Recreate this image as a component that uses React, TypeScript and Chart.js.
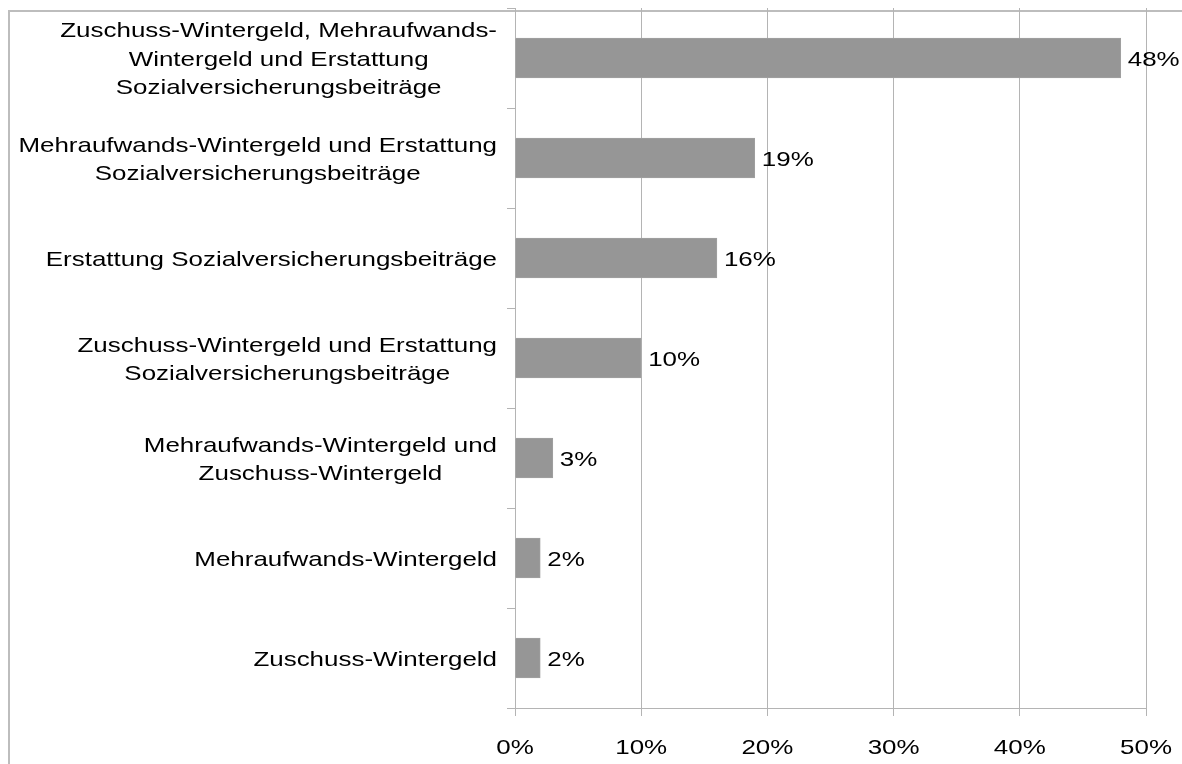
import React, { useEffect, useRef } from "react";
import { Chart, registerables } from "chart.js";

Chart.register(...registerables);

const categories: string[][] = [
  ["Zuschuss-Wintergeld, Mehraufwands-", "Wintergeld und Erstattung", "Sozialversicherungsbeiträge"],
  ["Mehraufwands-Wintergeld und Erstattung", "Sozialversicherungsbeiträge"],
  ["Erstattung Sozialversicherungsbeiträge"],
  ["Zuschuss-Wintergeld und Erstattung", "Sozialversicherungsbeiträge"],
  ["Mehraufwands-Wintergeld und", "Zuschuss-Wintergeld"],
  ["Mehraufwands-Wintergeld"],
  ["Zuschuss-Wintergeld"],
];
const shares: number[] = [48, 19, 16, 10, 3, 2, 2];
const xTicks: number[] = [0, 10, 20, 30, 40, 50];

const FONT = '"Liberation Sans", Arial, sans-serif';
const FONT_SIZE = 21;
const SX = 1.235; // horizontal text stretch seen in the reference
const GRID = "#b4b4b4";

function drawText(ctx: CanvasRenderingContext2D, text: string, x: number, y: number, align: CanvasTextAlign) {
  ctx.save();
  ctx.translate(x, y);
  ctx.scale(SX, 1);
  ctx.textAlign = align;
  ctx.fillText(text, 0, 0);
  ctx.restore();
}

const labelsPlugin = {
  id: "customLabels",
  afterDraw(chart: any) {
    const ctx: CanvasRenderingContext2D = chart.ctx;
    const yScale = chart.scales.y;
    const xScale = chart.scales.x;
    ctx.save();
    ctx.font = `${FONT_SIZE}px ${FONT}`;
    ctx.fillStyle = "#000";
    ctx.textBaseline = "middle";
    // category labels (centered block, right edge near axis)
    const rightEdge = yScale.right - 18;
    const lineH = 28.4;
    categories.forEach((lines, i) => {
      const yc = yScale.getPixelForTick(i) + 2;
      const maxW = Math.max(...lines.map((l) => ctx.measureText(l).width)) * SX;
      const xc = rightEdge - maxW / 2;
      lines.forEach((l, j) => {
        const y = yc + (j - (lines.length - 1) / 2) * lineH;
        drawText(ctx, l, xc, y, "center");
      });
    });
    // x tick labels
    xTicks.forEach((v) => {
      drawText(ctx, `${v}%`, xScale.getPixelForValue(v), xScale.top + 40, "center");
    });
    // value labels
    const meta = chart.getDatasetMeta(0);
    meta.data.forEach((bar: any, i: number) => {
      drawText(ctx, `${shares[i]}%`, bar.x + 7, bar.y + 2, "left");
    });
    ctx.restore();
  },
};

export default function App() {
  const ref = useRef<HTMLCanvasElement>(null);
  useEffect(() => {
    if (!ref.current) return;
    const chart = new Chart(ref.current, {
      type: "bar",
      data: {
        labels: categories.map((c) => c.join(" ")),
        datasets: [
          {
            data: shares,
            backgroundColor: "#969696",
            borderColor: "#a0a0a0",
            borderWidth: 1,
            barThickness: 40,
          },
        ],
      },
      options: {
        indexAxis: "y",
        animation: false,
        responsive: false,
        devicePixelRatio: 1,
        layout: { padding: { top: 8, right: 36, left: 0, bottom: 0 } },
        plugins: { legend: { display: false }, tooltip: { enabled: false } },
        scales: {
          x: {
            min: 0,
            max: 50,
            afterBuildTicks(scale: any) {
              scale.ticks = xTicks.map((v) => ({ value: v }));
            },
            afterFit(scale: any) {
              scale.height = 56;
            },
            ticks: { display: false },
            grid: { color: GRID, lineWidth: 1, tickLength: 8, drawTicks: true },
            border: { color: GRID, width: 1 },
          },
          y: {
            afterFit(scale: any) {
              scale.width = 515;
            },
            ticks: { display: false },
            grid: {
              offset: true,
              drawOnChartArea: false,
              drawTicks: true,
              tickLength: 8,
              color: GRID,
            },
            border: { color: GRID, width: 1 },
          },
        },
      },
      plugins: [labelsPlugin],
    });
    return () => chart.destroy();
  }, []);
  return (
    <div
      style={{
        position: "fixed",
        left: 0,
        top: 0,
        width: 1182,
        height: 764,
        overflow: "hidden",
        background: "#fff",
      }}
    >
      <div
        style={{
          position: "absolute",
          left: 8,
          top: 10,
          width: 1300,
          height: 900,
          borderLeft: "2px solid #bdbdbd",
          borderTop: "2px solid #bdbdbd",
        }}
      />
      <canvas
        ref={ref}
        width={1182}
        height={764}
        style={{ position: "absolute", left: 0, top: 0, width: 1182, height: 764 }}
      />
    </div>
  );
}
